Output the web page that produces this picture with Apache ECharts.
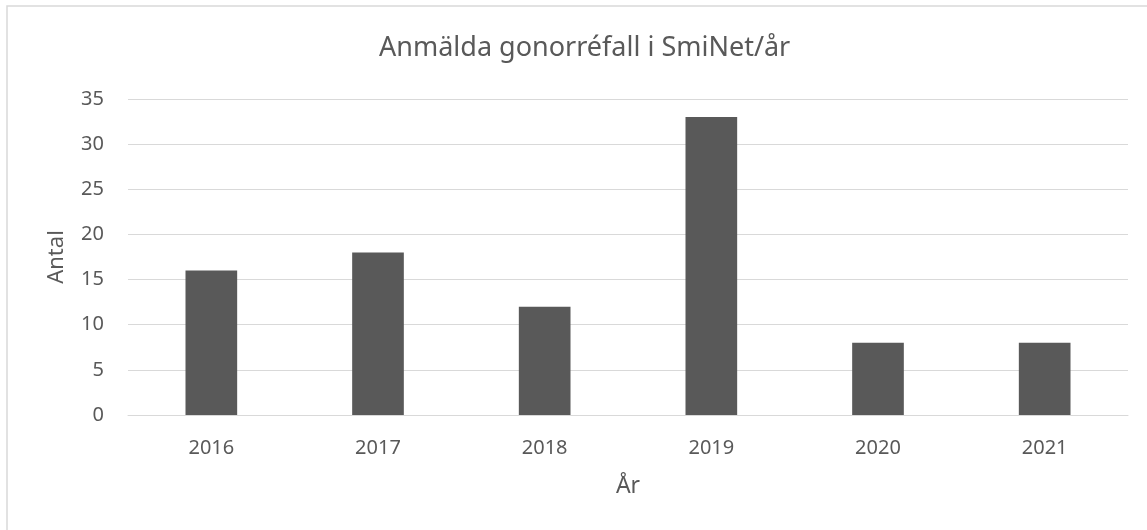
<!DOCTYPE html>
<html>
<head>
<meta charset="utf-8">
<script src="https://cdn.jsdelivr.net/npm/echarts@6/dist/echarts.min.js"></script>
<style>
html, body { margin: 0; padding: 0; background: #fff; }
#chart { width: 1147px; height: 530px; }
</style>
</head>
<body>
<div id="chart"></div>
<script>
var years = ['2016', '2017', '2018', '2019', '2020', '2021'];
var cases = [16, 18, 12, 33, 8, 8];
var yTicks = [0, 5, 10, 15, 20, 25, 30, 35];

var textColor = '#595959';
var font = '"Noto Sans", "Open Sans", sans-serif';

var chart = echarts.init(document.getElementById('chart'));
var option = {
	animation: false,
	textStyle: { fontFamily: font },
	title: {
		text: 'Anmälda gonorréfall i SmiNet/år',
		left: 374,
		top: 30,
		textStyle: { color: textColor, fontSize: 27, fontWeight: 'normal', fontFamily: font }
	},
	graphic: [{
		type: 'rect',
		shape: { x: 7, y: 6, width: 1200, height: 600 },
		style: { fill: 'none', stroke: '#d9d9d9', lineWidth: 1.5 },
		silent: true
	}],
	grid: { left: 128, right: 19, top: 99, bottom: 115 },
	xAxis: {
		type: 'category',
		data: years,
		name: 'År',
		nameLocation: 'middle',
		nameGap: 60,
		nameTextStyle: { color: textColor, fontSize: 23, fontFamily: font },
		axisLine: { lineStyle: { color: '#d9d9d9', width: 1 } },
		axisTick: { show: false },
		axisLabel: { color: textColor, fontSize: 20, margin: 23, fontFamily: font }
	},
	yAxis: {
		type: 'value',
		min: yTicks[0],
		max: yTicks[yTicks.length - 1],
		interval: 5,
		name: 'Antal',
		nameLocation: 'middle',
		nameGap: 60,
		nameTextStyle: { color: textColor, fontSize: 22, fontFamily: font },
		axisLine: { show: false },
		axisTick: { show: false },
		axisLabel: { color: textColor, fontSize: 20, margin: 24, fontFamily: font },
		splitLine: { lineStyle: { color: '#d9d9d9', width: 1 } }
	},
	series: [{
		type: 'bar',
		data: cases,
		barWidth: '31%',
		itemStyle: { color: '#595959' }
	}]
};
chart.setOption(option);
</script>
</body>
</html>
